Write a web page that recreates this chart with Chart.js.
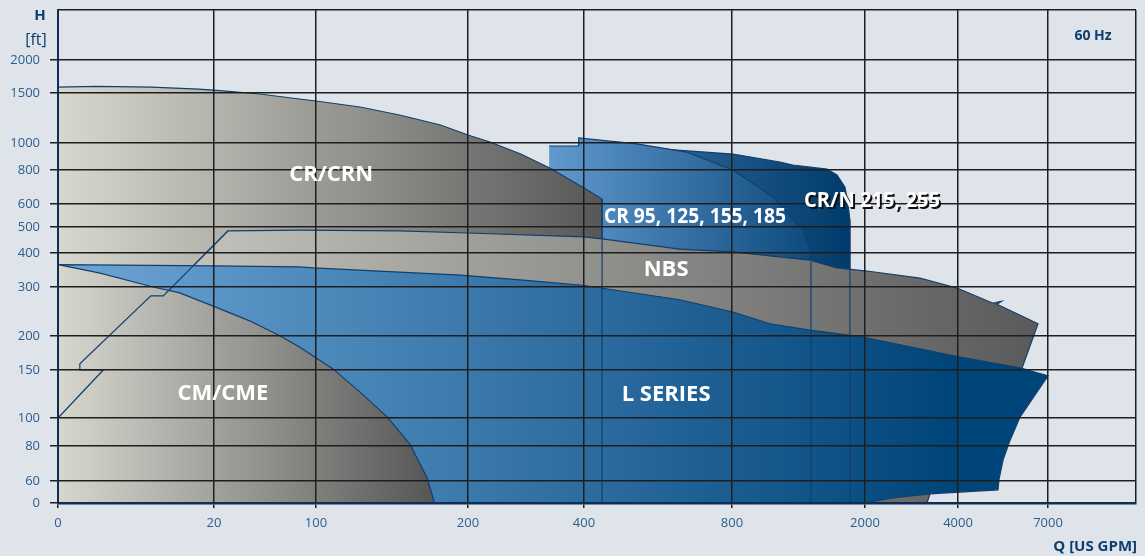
<!DOCTYPE html>
<html>
<head>
<meta charset="utf-8">
<script src="https://cdn.jsdelivr.net/npm/chart.js@4.4.1/dist/chart.umd.min.js"></script>
<style>
  html, body { margin: 0; padding: 0; background: #dfe4ea; }
  #wrap { position: relative; width: 1145px; height: 556px; }
</style>
</head>
<body>
<div id="wrap"><canvas id="chart"></canvas></div>
<script>
// Axis tick values (Q in US GPM, H in ft)
const qTicks = [0, 20, 100, 200, 400, 800, 2000, 4000, 7000];
const hTicks = [0, 60, 80, 100, 150, 200, 300, 400, 500, 600, 800, 1000, 1500, 2000];
const qMax = 10000;
const hMax = 2750;

// CR/CRN range
const crcrnQ = [0, 0, 5, 12, 18, 20, 56, 87, 100, 129, 155, 182, 200, 238, 290, 341, 400, 449, 449];
const crcrnH = [0, 1590, 1600, 1590, 1560, 1545, 1490, 1440, 1420, 1360, 1280, 1180, 1080, 1010, 920, 815, 694, 629, 0];

// CR 95, 125, 155, 185 range
const cr95Q = [340, 391, 391, 543, 678, 809, 1170, 1440, 1495, 1513, 1513, 340];
const cr95H = [978, 978, 1050, 993, 933, 800, 641, 488, 423, 374, 0, 0];

// CR/N 215, 255 range
const cr215Q = [605, 809, 1233, 1350, 1657, 1747, 1819, 1846, 1864, 1864, 605];
const cr215H = [956, 918, 859, 837, 807, 771, 700, 606, 530, 0, 0];

// NBS range
const nbsQ = [0, 0, 5.8, 2.8, 2.8, 11.9, 13.5, 31, 87, 155, 200, 400, 449, 659, 809, 1504, 1747, 2043, 3183, 3978, 5167, 5450, 5300, 6667, 6133, 5400, 3505, 3398, 3333];
const nbsH = [0, 100, 150, 150, 159, 282, 282, 485, 488, 485, 477, 462, 454, 415, 404, 379, 356, 347, 326, 298, 267, 271, 265, 225, 153, 99, 36, 25, 0];

// L SERIES range
const lserQ = [0, 0, 20, 87, 98, 155, 195, 290, 393, 446, 659, 809, 1143, 1504, 1955, 2968, 4067, 6067, 7000, 6567, 6067, 5733, 5500, 5367, 5333, 3398, 2602, 2000];
const lserH = [0, 366, 362, 359, 356, 344, 335, 321, 306, 298, 274, 249, 225, 212, 199, 184, 169, 153, 144, 124, 101, 84, 72, 61, 36, 25, 14, 0];

// CM/CME range
const cmQ = [0, 0, 5.4, 12.2, 15.6, 19.9, 48, 72, 87, 99, 111, 129, 147, 162, 173, 178];
const cmH = [0, 366, 341, 300, 288, 261, 231, 200, 184, 169, 152, 127, 101, 81, 62, 0];

// Region captions and their anchor points
const regionNames = ['CR/CRN', 'CR 95, 125, 155, 185', 'CR/N 215, 255', 'NBS', 'L SERIES', 'CM/CME'];
const regionQ = [110, 700, 2150, 622, 622, 27];
const regionH = [771, 543, 618, 350, 124, 125];

// Layout: where each tick sits along the axis (fraction of axis length)
const qGridPos = [0, 0.1447, 0.2393, 0.3803, 0.4879, 0.6252, 0.7486, 0.8349, 0.9184, 1];
const hGridPos = [0, 0.0446, 0.1156, 0.1724, 0.2698, 0.3387, 0.4381, 0.5071, 0.5598, 0.6065, 0.6755, 0.7302, 0.8316, 0.8986, 1];
// caption widths (the original uses a narrow face)
const captionMaxW = [undefined, 182, 136, undefined, undefined, undefined];

const axisStops = {
  x: { vals: [...qTicks, qMax], pos: qGridPos },
  y: { vals: [...hTicks, hMax], pos: hGridPos }
};

// Piecewise scale: ticks are placed at fixed positions, values interpolate between them
class StopScale extends Chart.LinearScale {
  determineDataLimits() {
    const s = axisStops[this.id];
    this.min = s.vals[0];
    this.max = s.vals[s.vals.length - 1];
  }
  buildTicks() {
    return axisStops[this.id].vals.map(v => ({ value: v }));
  }
  getPixelForValue(v) {
    if (v === null || v === undefined || isNaN(v)) return NaN;
    const { vals, pos } = axisStops[this.id];
    let i = 1;
    while (i < vals.length - 1 && v > vals[i]) i++;
    const t = (v - vals[i - 1]) / (vals[i] - vals[i - 1]);
    return this.getPixelForDecimal(pos[i - 1] + t * (pos[i] - pos[i - 1]));
  }
  getValueForPixel(p) {
    const { vals, pos } = axisStops[this.id];
    const d = this.getDecimalForPixel(p);
    let i = 1;
    while (i < pos.length - 1 && d > pos[i]) i++;
    const t = (d - pos[i - 1]) / (pos[i] - pos[i - 1]);
    return vals[i - 1] + t * (vals[i] - vals[i - 1]);
  }
}
StopScale.id = 'stops';
StopScale.defaults = {};
Chart.register(StopScale);

function poly(qs, hs) {
  return qs.map((q, i) => ({ x: q, y: hs[i] }));
}

// Horizontal gradient between two flow values
function hGrad(q0, q1, c0, c1) {
  return (ctx) => {
    const chart = ctx.chart;
    if (!chart.chartArea) return c0;
    const xs = chart.scales.x;
    const g = chart.ctx.createLinearGradient(xs.getPixelForValue(q0), 0, xs.getPixelForValue(q1), 0);
    g.addColorStop(0, c0);
    g.addColorStop(1, c1);
    return g;
  };
}

const edgeColor = '#123f6c';

function area(data, bg, order) {
  return {
    type: 'line', data, order,
    backgroundColor: bg, borderColor: edgeColor, borderWidth: 1.2,
    pointRadius: 0, tension: 0, fill: 'shape'
  };
}
function outline(data) {
  return {
    type: 'line', data, order: 0,
    borderColor: edgeColor, borderWidth: 1.2,
    pointRadius: 0, tension: 0, fill: false
  };
}

const datasets = [
  area(poly(cr215Q, cr215H), hGrad(605, 1864, '#2d6397', '#003c6b'), 7),
  area(poly(cr95Q, cr95H), hGrad(340, 1513, '#6199cf', '#0e4a7c'), 6),
  area(poly(crcrnQ, crcrnH), hGrad(0, 449, '#d9d8cf', '#575757'), 5),
  area(poly(nbsQ, nbsH), hGrad(0, 6667, '#d3d2ca', '#5a5a5b'), 4),
  area(poly(lserQ, lserH), hGrad(0, 3800, '#6ea5d6', '#00457a'), 3),
  area(poly(cmQ, cmH), hGrad(0, 178, '#d8d7cf', '#565656'), 2),
  // edges that show through the upper layers
  outline(poly(nbsQ.slice(1, 8), nbsH.slice(1, 8))),
  outline(poly([crcrnQ[17], crcrnQ[18]], [crcrnH[17], crcrnH[18]])),
  outline(poly([cr95Q[9], cr95Q[10]], [cr95H[9], cr95H[10]])),
  outline(poly([cr215Q[8], cr215Q[9]], [cr215H[8], cr215H[9]]))
];

// Captions drawn on top of everything
const textPlugin = {
  id: 'texts',
  afterDraw(chart) {
    const { ctx, scales: { x, y } } = chart;
    ctx.save();
    ctx.textAlign = 'center';
    ctx.textBaseline = 'middle';
    ctx.font = 'bold 22px "Open Sans"';
    regionNames.forEach((name, i) => {
      const px = x.getPixelForValue(regionQ[i]);
      const py = y.getPixelForValue(regionH[i]);
      const mw = captionMaxW[i];
      if (i === 2) {
        ctx.fillStyle = '#111';
        ctx.fillText(name, px + 2, py + 2, mw);
      }
      ctx.fillStyle = '#ffffff';
      if (mw) ctx.fillText(name, px, py, mw); else ctx.fillText(name, px, py);
    });
    ctx.fillStyle = '#0d3f6e';
    ctx.font = 'bold 15px "Open Sans"';
    ctx.fillText('H', 40, 16);
    ctx.font = '16px "Open Sans"';
    ctx.fillText('[ft]', 36, 40);
    ctx.font = 'bold 14px "Open Sans"';
    ctx.fillText('60 Hz', 1093, 36);
    ctx.textAlign = 'right';
    ctx.font = 'bold 15px "Open Sans"';
    ctx.fillText('Q [US GPM]', 1137, 547);
    ctx.restore();
  }
};

Chart.defaults.font.family = '"Open Sans", sans-serif';

function noPad(s) {
  s.paddingTop = 0; s.paddingBottom = 0; s.paddingLeft = 0; s.paddingRight = 0;
}

new Chart(document.getElementById('chart'), {
  type: 'line',
  data: { datasets },
  options: {
    responsive: true,
    maintainAspectRatio: false,
    animation: false,
    events: [],
    layout: { padding: { top: 10, right: 9, left: 0, bottom: 0 } },
    plugins: { legend: { display: false }, tooltip: { enabled: false } },
    scales: {
      x: {
        type: 'stops', axis: 'x', position: 'bottom',
        afterFit: s => { s.height = 53; noPad(s); },
        grid: {
          color: '#1e1e1e', lineWidth: 1.5, tickLength: 5, z: 1,
          tickColor: c => (c.tick && c.tick.value === qMax) ? 'rgba(0,0,0,0)' : '#1e1e1e'
        },
        border: { color: '#0d2f55', width: 2.5, z: 2 },
        ticks: {
          color: '#2c5d8c', font: { size: 13 }, padding: 7,
          autoSkip: false, maxRotation: 0,
          callback: v => v === qMax ? '' : String(v)
        }
      },
      y: {
        type: 'stops', axis: 'y', position: 'left',
        afterFit: s => { s.width = 58; noPad(s); },
        grid: {
          color: '#1e1e1e', lineWidth: 1.5, tickLength: 8, z: 1,
          tickColor: c => (c.tick && c.tick.value === hMax) ? 'rgba(0,0,0,0)' : '#1e1e1e'
        },
        border: { color: '#0d2f55', width: 2, z: 2 },
        ticks: {
          color: '#2c5d8c', font: { size: 13 }, padding: 10,
          autoSkip: false,
          callback: v => v === hMax ? '' : String(v)
        }
      }
    }
  },
  plugins: [textPlugin]
});
</script>
</body>
</html>
